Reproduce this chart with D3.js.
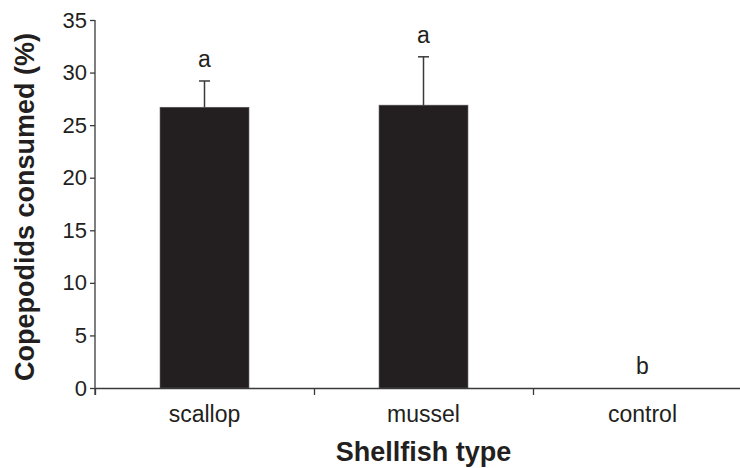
<!DOCTYPE html>
<html>
<head>
<meta charset="utf-8">
<script src="https://cdn.jsdelivr.net/npm/d3@7"></script>
<style>
  html, body { margin: 0; padding: 0; background: #fff; }
  svg { display: block; }
  text { font-family: "Liberation Sans", Arial, Helvetica, sans-serif; fill: #231f20; }
</style>
</head>
<body>
<svg id="chart" width="740" height="468"></svg>
<script>
const categories = ["scallop", "mussel", "control"];
const meanValues = [26.7, 26.9, 0];
const errorValues = [2.5, 4.6, 0];
const groupLetters = ["a", "a", "b"];
const yTickValues = [0, 5, 10, 15, 20, 25, 30, 35];
const yLabel = "Copepodids consumed (%)";
const xLabel = "Shellfish type";

const svg = d3.select("#chart");
const plotLeft = 95, plotRight = 752, plotTop = 20, plotBottom = 388;
const ink = "#231f20";
const axisColor = "#3a3a3a";

const y = d3.scaleLinear().domain([0, 35]).range([plotBottom, plotTop]);
const x = d3.scaleBand().domain(categories).range([plotLeft, plotRight])
  .paddingInner(0.594).paddingOuter(0.297);
const xEdges = d3.scaleLinear().domain([0, categories.length]).range([plotLeft, plotRight]);

// Bars
svg.append("g").selectAll("rect").data(categories).join("rect")
  .attr("x", d => x(d))
  .attr("width", x.bandwidth())
  .attr("y", (d, i) => y(meanValues[i]))
  .attr("height", (d, i) => y(0) - y(meanValues[i]))
  .attr("fill", ink)
  .attr("stroke", "#555")
  .attr("stroke-width", 0.6);

// Error bars (upper only)
const eg = svg.append("g").attr("stroke", axisColor).attr("stroke-width", 1.5);
categories.forEach((c, i) => {
  if (errorValues[i] <= 0) return;
  const cx = x(c) + x.bandwidth() / 2;
  eg.append("line").attr("x1", cx).attr("x2", cx)
    .attr("y1", y(meanValues[i])).attr("y2", y(meanValues[i] + errorValues[i]));
  eg.append("line").attr("x1", cx - 5.5).attr("x2", cx + 5.5)
    .attr("y1", y(meanValues[i] + errorValues[i])).attr("y2", y(meanValues[i] + errorValues[i]));
});

// Group letters
svg.append("g").selectAll("text").data(categories).join("text")
  .attr("x", d => x(d) + x.bandwidth() / 2)
  .attr("y", (d, i) => y(meanValues[i] + errorValues[i]) - 14)
  .attr("text-anchor", "middle")
  .style("font-size", "23px")
  .text((d, i) => groupLetters[i]);

// Y axis
const yAxis = svg.append("g").attr("transform", `translate(${plotLeft},0)`)
  .call(d3.axisLeft(y).tickValues(yTickValues).tickSize(5).tickPadding(3).tickSizeOuter(0));
yAxis.select(".domain").attr("stroke", axisColor).attr("stroke-width", 1.3)
  .attr("d", `M0,${plotTop}V${plotBottom + 7}`);
yAxis.selectAll(".tick line").attr("stroke", axisColor).attr("stroke-width", 1.3);
yAxis.selectAll(".tick text").style("font-size", "22px").attr("fill", ink)
  .style("font-family", "'Liberation Sans', Arial, sans-serif");

// X axis: boundary ticks
const xAxisTicks = svg.append("g").attr("transform", `translate(0,${plotBottom})`)
  .call(d3.axisBottom(xEdges).tickValues([0, 1, 2, 3]).tickSize(7).tickFormat("").tickSizeOuter(0));
xAxisTicks.select(".domain").attr("stroke", axisColor).attr("stroke-width", 1.3);
xAxisTicks.selectAll(".tick line").attr("stroke", axisColor).attr("stroke-width", 1.3);

// X axis: category labels
const xAxisLabels = svg.append("g").attr("transform", `translate(0,${plotBottom})`)
  .call(d3.axisBottom(x).tickSize(0).tickPadding(18));
xAxisLabels.select(".domain").remove();
xAxisLabels.selectAll(".tick text").style("font-size", "23px").attr("fill", ink)
  .style("font-family", "'Liberation Sans', Arial, sans-serif");

// Axis titles
svg.append("text")
  .attr("x", (plotLeft + plotRight) / 2).attr("y", 461)
  .attr("text-anchor", "middle")
  .style("font-size", "27px").style("font-weight", "bold")
  .text(xLabel);

svg.append("text")
  .attr("transform", `translate(34,207) rotate(-90)`)
  .attr("text-anchor", "middle")
  .style("font-size", "27px").style("font-weight", "bold")
  .text(yLabel);
</script>
</body>
</html>
